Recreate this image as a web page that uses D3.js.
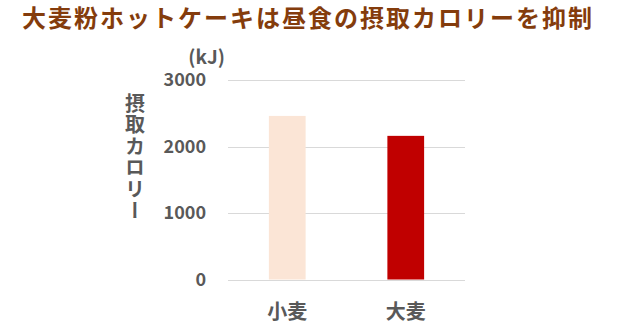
<!DOCTYPE html>
<html><head><meta charset="utf-8">
<script src="https://cdn.jsdelivr.net/npm/d3@7"></script>
<style>
html,body{margin:0;padding:0;background:#fff;}
svg{display:block;font-family:"Noto Sans CJK JP","Noto Sans",sans-serif;}
</style></head>
<body>
<script>
const title = "大麦粉ホットケーキは昼食の摂取カロリーを抑制";
const categories = ["小麦", "大麦"];
const values = [2460, 2160];
const barColors = ["#FBE5D6", "#C00000"];
const yTicks = [0, 1000, 2000, 3000];
const yLabel = "摂取カロリー";
const unitLabel = "(kJ)";

const W = 640, H = 329;
const svg = d3.select("body").append("svg").attr("width", W).attr("height", H);

const y = d3.scaleLinear().domain([0, 3000]).range([279.5, 80]);
const x = d3.scaleBand().domain(categories).range([228, 465]).paddingInner(0.69).paddingOuter(0.345);

// title
svg.append("text").attr("x", 22).attr("y", 27)
  .attr("font-size", 24).attr("font-weight", "bold").attr("letter-spacing", "2px")
  .attr("fill", "#843C0C").text(title);

// gridlines
svg.append("g").selectAll("line").data(yTicks).join("line")
  .attr("x1", 228).attr("x2", 465)
  .attr("y1", d => Math.round(y(d)) + 0.5).attr("y2", d => Math.round(y(d)) + 0.5)
  .attr("stroke", "#D9D9D9").attr("stroke-width", 1);

// y tick labels
svg.append("g").selectAll("text").data(yTicks).join("text")
  .attr("x", 206).attr("y", d => y(d)).attr("dy", "0.36em")
  .attr("text-anchor", "end").attr("font-size", 18).attr("font-weight", "bold")
  .attr("fill", "#595959").text(d => d);

// bars
svg.append("g").selectAll("rect").data(values).join("rect")
  .attr("x", (d, i) => x(categories[i])).attr("width", x.bandwidth())
  .attr("y", d => y(d)).attr("height", d => y(0) - y(d))
  .attr("fill", (d, i) => barColors[i]);

// x labels
svg.append("g").selectAll("text").data(categories).join("text")
  .attr("x", d => x(d) + x.bandwidth() / 2).attr("y", 312).attr("dy", "0.36em")
  .attr("text-anchor", "middle").attr("font-size", 20).attr("font-weight", "bold")
  .attr("fill", "#595959").text(d => d);

// unit label
svg.append("text").attr("x", 225).attr("y", 57).attr("dy", "0.36em")
  .attr("text-anchor", "end").attr("font-size", 19).attr("font-weight", "bold")
  .attr("fill", "#595959").text(unitLabel);

// vertical y label
svg.append("text").attr("x", 135).attr("y", 93)
  .attr("writing-mode", "vertical-rl").style("text-orientation", "upright")
  .attr("font-size", 20).attr("font-weight", "bold").attr("letter-spacing", "1.5px")
  .attr("fill", "#595959").text(yLabel);
</script>
</body></html>
